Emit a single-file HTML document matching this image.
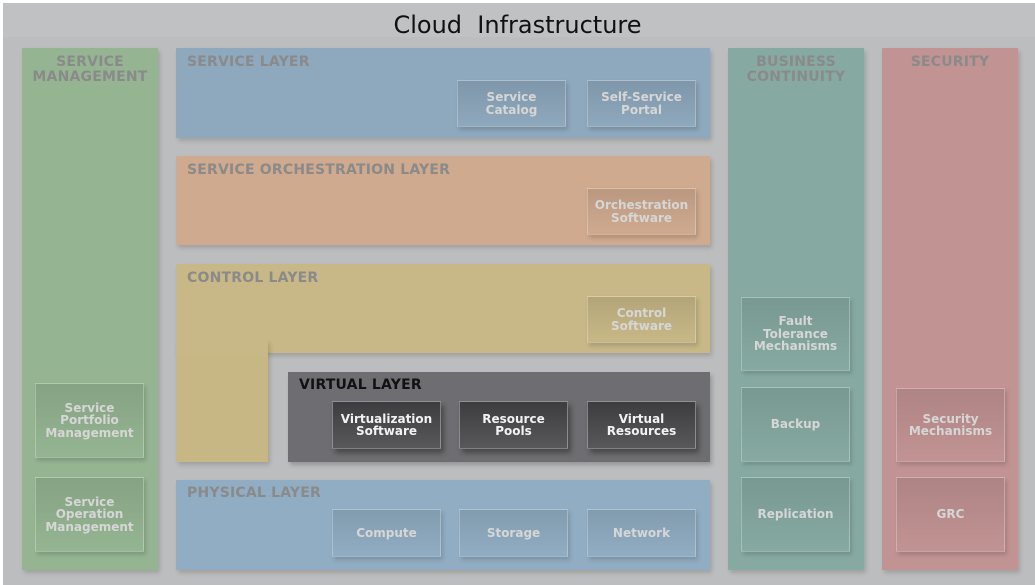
<!DOCTYPE html>
<html><head><meta charset="utf-8"><style>
*{margin:0;padding:0;box-sizing:border-box}
body{width:1035px;height:585px;background:#fff;position:relative;overflow:hidden;font-family:"DejaVu Sans","Liberation Sans",sans-serif}
#bg{position:absolute;left:3px;top:3px;width:1032px;height:582px;background:#bcbdbe}
#tb{position:absolute;left:3px;top:3px;width:1032px;height:34px;background:#c0c1c2}
.t{position:absolute;left:0;width:1035px;top:11px;text-align:center;font-size:24px;color:#111;white-space:pre}
.p{position:absolute;box-shadow:2px 3px 4px rgba(0,0,0,0.15)}
.lab{position:absolute;font-weight:bold;font-size:14px;color:#8a8a8a;letter-spacing:0.2px;white-space:nowrap}
.cl{text-align:center;line-height:15px}
.b{position:absolute;width:109px;display:flex;align-items:center;justify-content:center;text-align:center;font-weight:bold;font-size:12px;line-height:12.5px;color:#d6d6d6;border:1px solid rgba(255,255,255,0.28);background:linear-gradient(rgba(0,0,0,0.10),rgba(0,0,0,0));box-shadow:2px 3px 4px rgba(0,0,0,0.15)}
.d{color:#f2f2f2;border:1px solid rgba(255,255,255,0.35);background:linear-gradient(#3d3d3f,#58585b);box-shadow:3px 4px 5px rgba(0,0,0,0.35)}
</style></head><body>
<div id="bg"></div><div id="tb"></div>
<div class="t">Cloud  Infrastructure</div>

<div class="p" style="left:22px;top:48px;width:136px;height:522px;background:#95b592"></div>
<div class="lab cl" style="left:22px;top:55px;width:136px">SERVICE<br>MANAGEMENT</div>

<div class="p" style="left:176px;top:48px;width:534px;height:90px;background:#8ea8bd"></div>
<div class="lab" style="left:187px;top:54px">SERVICE LAYER</div>

<div class="p" style="left:176px;top:156px;width:534px;height:89px;background:#cfaa8f"></div>
<div class="lab" style="left:187px;top:162px">SERVICE ORCHESTRATION LAYER</div>

<div class="p" style="left:176px;top:264px;width:534px;height:89px;background:#c8b887"></div>
<div class="p" style="left:176px;top:340px;width:92px;height:122px;background:#c6b784"></div>
<div style="position:absolute;left:176px;top:330px;width:92px;height:25px;background:#c8b887"></div>
<div class="lab" style="left:187px;top:270px">CONTROL LAYER</div>

<div class="p" style="left:288px;top:372px;width:422px;height:90px;background:#6e6e72;box-shadow:2px 3px 4px rgba(0,0,0,0.2)"></div>
<div class="lab" style="left:299px;top:377px;color:#111">VIRTUAL LAYER</div>

<div class="p" style="left:176px;top:480px;width:534px;height:90px;background:#91adc3"></div>
<div class="lab" style="left:187px;top:485px">PHYSICAL LAYER</div>

<div class="p" style="left:728px;top:48px;width:136px;height:522px;background:#86aaa2"></div>
<div class="lab cl" style="left:728px;top:55px;width:136px">BUSINESS<br>CONTINUITY</div>

<div class="p" style="left:882px;top:48px;width:136px;height:522px;background:#c29393"></div>
<div class="lab cl" style="left:882px;top:55px;width:136px">SECURITY</div>

<div class="b" style="left:457px;top:80px;height:47px">Service<br>Catalog</div>
<div class="b" style="left:587px;top:80px;height:47px">Self-Service<br>Portal</div>
<div class="b" style="left:587px;top:188px;height:47px">Orchestration<br>Software</div>
<div class="b" style="left:587px;top:296px;height:47px">Control<br>Software</div>

<div class="b d" style="left:332px;top:401px;height:48px">Virtualization<br>Software</div>
<div class="b d" style="left:459px;top:401px;height:48px">Resource<br>Pools</div>
<div class="b d" style="left:587px;top:401px;height:48px">Virtual<br>Resources</div>

<div class="b" style="left:332px;top:509px;height:48px">Compute</div>
<div class="b" style="left:459px;top:509px;height:48px">Storage</div>
<div class="b" style="left:587px;top:509px;height:48px">Network</div>

<div class="b" style="left:35px;top:383px;height:75px">Service<br>Portfolio<br>Management</div>
<div class="b" style="left:35px;top:477px;height:75px">Service<br>Operation<br>Management</div>

<div class="b" style="left:741px;top:297px;height:74px">Fault<br>Tolerance<br>Mechanisms</div>
<div class="b" style="left:741px;top:387px;height:75px">Backup</div>
<div class="b" style="left:741px;top:477px;height:75px">Replication</div>

<div class="b" style="left:896px;top:388px;height:74px">Security<br>Mechanisms</div>
<div class="b" style="left:896px;top:477px;height:75px">GRC</div>
</body></html>
